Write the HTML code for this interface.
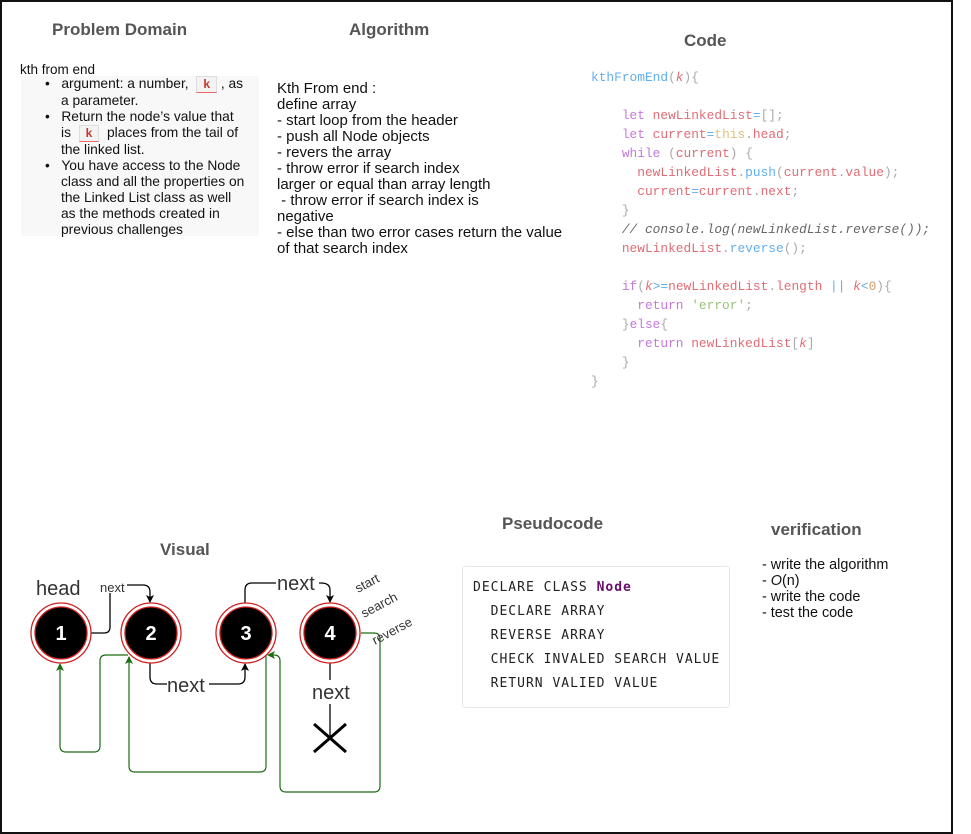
<!DOCTYPE html>
<html><head><meta charset="utf-8"><style>
html,body{margin:0;padding:0;background:#fff;}
body{width:971px;height:834px;position:relative;overflow:hidden;font-family:"Liberation Sans",sans-serif;}
.a{position:absolute;white-space:nowrap;}
.t{font-weight:bold;color:#555;font-size:17px;}
.hand{font-size:13.5px;color:#111;line-height:16px;}
.code{font-family:"Liberation Mono",monospace;font-size:12.85px;line-height:19px;color:#e06c75;}
.kw{color:#c678dd}.fn{color:#61afef}.str{color:#98c379}.gr{color:#aaa}.cm{color:#666;font-style:italic}.num{color:#d19a66}.th{color:#e5c07b}
.k{display:inline-block;border:1px solid #ddd;border-bottom-color:#e66;background:#f3f3f3;color:#c0392b;font-weight:bold;font-size:12px;padding:0 6px;line-height:15px;}
</style></head><body>
<div style="position:absolute;left:0;top:0;width:949px;height:830px;border:2px solid #111;"></div>

<div class="a t" style="left:52px;top:20px;">Problem Domain</div>
<div class="a t" style="left:349px;top:20px;">Algorithm</div>
<div class="a t" style="left:684px;top:31px;">Code</div>

<div class="a hand" style="left:20px;top:62px;">kth from end</div>
<div class="a" style="left:21px;top:76px;width:238px;height:160px;background:#f8f8f8;"></div>
<div class="a hand" style="left:45px;top:76px;line-height:16px;font-size:13.8px;">
•&nbsp;&nbsp;&nbsp;argument: a number, &nbsp;<span class="k">k</span>&nbsp;, as<br>
<span style="padding-left:16px">a parameter.</span><br>
•&nbsp;&nbsp;&nbsp;Return the node’s value that<br>
<span style="padding-left:16px">is &nbsp;<span class="k">k</span>&nbsp; places from the tail of</span><br>
<span style="padding-left:16px">the linked list.</span><br>
•&nbsp;&nbsp;&nbsp;You have access to the Node<br>
<span style="padding-left:16px">class and all the properties on</span><br>
<span style="padding-left:16px">the Linked List class as well</span><br>
<span style="padding-left:16px">as the methods created in</span><br>
<span style="padding-left:16px">previous challenges</span>
</div>

<div class="a hand" style="left:277px;top:81px;font-size:15px;">Kth From end :<br>define array<br>- start loop from the header<br>- push all Node objects<br>- revers the array<br>- throw error if search index<br>larger or equal than array length<br>&nbsp;- throw error if search index is<br>negative<br>- else than two error cases return the value<br>of that search index</div>

<div class="a code" style="left:591px;top:68px;">
<span class="fn">kthFromEnd</span><span class="gr">(</span><i>k</i><span class="gr">){</span><br><br>
&nbsp;&nbsp;&nbsp;&nbsp;<span class="kw">let</span> newLinkedList<span class="fn">=</span><span class="gr">[];</span><br>
&nbsp;&nbsp;&nbsp;&nbsp;<span class="kw">let</span> current<span class="fn">=</span><span class="th">this</span><span class="gr">.</span>head<span class="gr">;</span><br>
&nbsp;&nbsp;&nbsp;&nbsp;<span class="kw">while</span> <span class="gr">(</span>current<span class="gr">) {</span><br>
&nbsp;&nbsp;&nbsp;&nbsp;&nbsp;&nbsp;newLinkedList<span class="gr">.</span><span class="fn">push</span><span class="gr">(</span>current<span class="gr">.</span>value<span class="gr">);</span><br>
&nbsp;&nbsp;&nbsp;&nbsp;&nbsp;&nbsp;current<span class="fn">=</span>current<span class="gr">.</span>next<span class="gr">;</span><br>
&nbsp;&nbsp;&nbsp;&nbsp;<span class="gr">}</span><br>
&nbsp;&nbsp;&nbsp;&nbsp;<span class="cm">// console.log(newLinkedList.reverse());</span><br>
&nbsp;&nbsp;&nbsp;&nbsp;newLinkedList<span class="gr">.</span><span class="fn">reverse</span><span class="gr">();</span><br><br>
&nbsp;&nbsp;&nbsp;&nbsp;<span class="kw">if</span><span class="gr">(</span><i>k</i><span class="fn">&gt;=</span>newLinkedList<span class="gr">.</span>length <span class="fn">||</span> <i>k</i><span class="fn">&lt;</span><span class="num">0</span><span class="gr">){</span><br>
&nbsp;&nbsp;&nbsp;&nbsp;&nbsp;&nbsp;<span class="kw">return</span> <span class="str">'error'</span><span class="gr">;</span><br>
&nbsp;&nbsp;&nbsp;&nbsp;<span class="gr">}</span><span class="kw">else</span><span class="gr">{</span><br>
&nbsp;&nbsp;&nbsp;&nbsp;&nbsp;&nbsp;<span class="kw">return</span> newLinkedList<span class="gr">[</span><i>k</i><span class="gr">]</span><br>
&nbsp;&nbsp;&nbsp;&nbsp;<span class="gr">}</span><br>
<span class="gr">}</span>
</div>

<div class="a t" style="left:502px;top:514px;">Pseudocode</div>
<div class="a t" style="left:771px;top:520px;">verification</div>
<div class="a t" style="left:160px;top:540px;">Visual</div>

<div class="a" style="left:462px;top:566px;width:266px;height:140px;border:1px solid #e8e8e8;border-radius:3px;"></div>
<div class="a" style="left:473px;top:576px;font-family:'DejaVu Sans Mono',monospace;font-size:13px;letter-spacing:1px;line-height:24px;color:#222;">
DECLARE CLASS <b style="color:#6a0f6a">Node</b><br>
&nbsp;&nbsp;DECLARE ARRAY<br>
&nbsp;&nbsp;REVERSE ARRAY<br>
&nbsp;&nbsp;CHECK INVALED SEARCH VALUE<br>
&nbsp;&nbsp;RETURN VALIED VALUE</div>

<div class="a hand" style="left:762px;top:557px;font-size:14.4px;">- write the algorithm<br>- <i>O</i>(n)<br>- write the code<br>- test the code</div>

<svg class="a" style="left:0;top:0" width="971" height="834">
<defs>
<marker id="ab" markerWidth="8" markerHeight="8" refX="7" refY="4" orient="auto" markerUnits="userSpaceOnUse"><path d="M0,0 L8,4 L0,8 L2,4 Z" fill="#000"/></marker>
<marker id="ag" markerWidth="8" markerHeight="8" refX="7" refY="4" orient="auto" markerUnits="userSpaceOnUse"><path d="M0,0 L8,4 L0,8 L2,4 Z" fill="#1b6b12"/></marker>
</defs>
<g fill="none" stroke="#000" stroke-width="1.3">
<path d="M91,633 H104 Q110,633 110,627 V591 Q110,585 116,585 H143 Q150,585 150,592 V602" marker-end="url(#ab)"/>
<path d="M245,603 V590 Q245,583 252,583 H321 Q330,583 330,590 V602" marker-end="url(#ab)"/>
<path d="M150,663 V677 Q150,684 157,684 H238 Q245,684 245,677 V664" marker-end="url(#ab)"/>
<path d="M330,663 V738"/>
<path d="M314,724 L346,752 M346,724 L314,752" stroke-width="3"/>
</g>
<g fill="none" stroke="#1b6b12" stroke-width="1.2">
<path d="M128,655 H106 Q100,655 100,661 V746 Q100,752 94,752 H66 Q60,752 60,746 V664" marker-end="url(#ag)"/>
<path d="M266,655 V766 Q266,772 260,772 H135 Q129,772 129,766 V657" marker-end="url(#ag)"/>
<path d="M361,633 H374 Q380,633 380,639 V786 Q380,792 374,792 H286 Q280,792 280,786 V661 Q280,655 274,655 H268" marker-end="url(#ag)"/>
</g>
<g>
<circle cx="61" cy="633" r="30" fill="#fff" stroke="#d02020" stroke-width="1.3"/><circle cx="61" cy="633" r="26" fill="#000" stroke="#d02020" stroke-width="1.3"/>
<circle cx="151" cy="633" r="30" fill="#fff" stroke="#d02020" stroke-width="1.3"/><circle cx="151" cy="633" r="26" fill="#000" stroke="#d02020" stroke-width="1.3"/>
<circle cx="246" cy="633" r="30" fill="#fff" stroke="#d02020" stroke-width="1.3"/><circle cx="246" cy="633" r="26" fill="#000" stroke="#d02020" stroke-width="1.3"/>
<circle cx="330" cy="633" r="30" fill="#fff" stroke="#d02020" stroke-width="1.3"/><circle cx="330" cy="633" r="26" fill="#000" stroke="#d02020" stroke-width="1.3"/>
</g>
<g font-family="Liberation Sans, sans-serif" font-weight="bold" font-size="20" fill="#fff" text-anchor="middle">
<text x="61" y="640">1</text><text x="151" y="640">2</text><text x="246" y="640">3</text><text x="330" y="640">4</text>
</g>
<g font-family="Liberation Sans, sans-serif" fill="#333">
<text x="36" y="595" font-size="20">head</text>
<rect x="99" y="579" width="28" height="14" fill="#fff"/>
<text x="100" y="592" font-size="13">next</text>
<rect x="276" y="572" width="43" height="20" fill="#fff"/>
<text x="277" y="590" font-size="20">next</text>
<rect x="167" y="675" width="42" height="20" fill="#fff"/>
<text x="167" y="692" font-size="20">next</text>
<rect x="311" y="680" width="43" height="24" fill="#fff"/>
<text x="312" y="699" font-size="20">next</text>
<text font-size="13" transform="translate(358,593) rotate(-28)">start</text>
<text font-size="13" transform="translate(364,618) rotate(-28)">search</text>
<text font-size="13" transform="translate(375,645) rotate(-28)">reverse</text>
</g>
</svg>
</body></html>
